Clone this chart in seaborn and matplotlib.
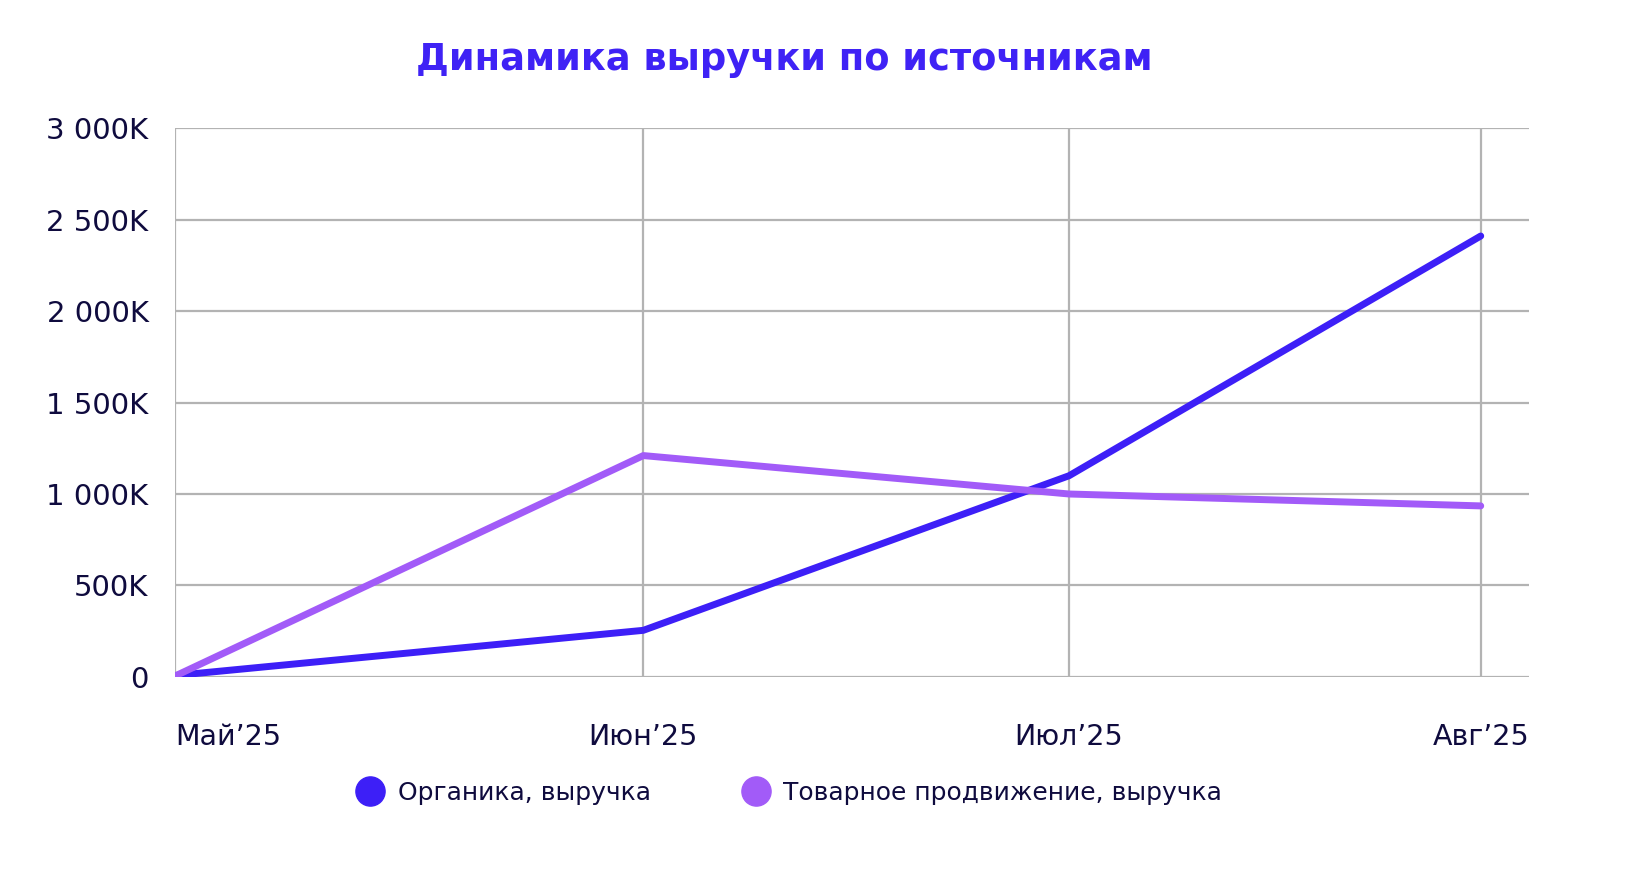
import matplotlib
matplotlib.use("Agg")
import matplotlib.pyplot as plt
import matplotlib.dates as mdates
from matplotlib.lines import Line2D
from matplotlib.ticker import FuncFormatter
import pandas as pd
import seaborn as sns

# data (values in thousands)
dates = ["2025-05-01", "2025-06-03", "2025-07-03", "2025-08-01"]
month_labels = ["Май’25", "Июн’25", "Июл’25", "Авг’25"]
organic = [8, 255, 1100, 2410]
promo = [5, 1210, 1000, 935]
series_names = ["Органика, выручка", "Товарное продвижение, выручка"]
colors = ["#3d1ff7", "#a25bf8"]

TEXT = "#0f0b3e"
GRID = "#b3b3b3"


def build_frame():
    x = pd.to_datetime(dates)
    df = pd.concat([
        pd.DataFrame({"date": x, "value": organic, "series": series_names[0]}),
        pd.DataFrame({"date": x, "value": promo, "series": series_names[1]}),
    ])
    return df


def fmt_k(v, pos):
    if v == 0:
        return "0"
    return f"{int(v):,}".replace(",", " ") + "K"


def plot(df):
    sns.set_style("white")
    plt.rcParams["font.family"] = ["DejaVu Sans"]

    fig = plt.figure(figsize=(16.29, 8.8), dpi=100)
    ax = fig.add_axes([0.1074, 0.2307, 0.8312, 0.6238])

    sns.lineplot(data=df, x="date", y="value", hue="series",
                 palette=colors, linewidth=5, legend=False, ax=ax,
                 zorder=3)

    x = pd.to_datetime(dates)
    ax.set_xlim(x[0], x[-1] + pd.Timedelta(days=3.4))
    ax.set_ylim(0, 3000)
    ax.set_yticks(range(0, 3001, 500))
    ax.yaxis.set_major_formatter(FuncFormatter(fmt_k))
    ax.set_xticks(mdates.date2num(x))
    ax.set_xticklabels(month_labels)
    for i, lbl in enumerate(ax.get_xticklabels()):
        lbl.set_ha("left" if i == 0 else "center")

    ax.grid(True, color=GRID, linewidth=1.6)
    for s in ax.spines.values():
        s.set_visible(False)
    ax.tick_params(axis="both", length=0, colors=TEXT)
    ax.tick_params(axis="y", pad=19, labelsize=21)
    ax.tick_params(axis="x", pad=33, labelsize=20.5)
    ax.set_xlabel("")
    ax.set_ylabel("")

    fig.text(0.4815, 0.932, "Динамика выручки по источникам",
             ha="center", va="center", fontsize=26.5, fontweight="bold",
             color="#3f22f5")

    handles = [Line2D([], [], marker="o", linestyle="none", markersize=21,
                      markerfacecolor=c, markeredgecolor=c) for c in colors]
    fig.legend(handles, series_names, loc="center", ncol=2,
               bbox_to_anchor=(0.481, 0.099), frameon=False,
               fontsize=18, labelcolor=TEXT, handletextpad=0.1,
               columnspacing=3.2)

    fig.savefig("out.png", dpi=100)


if __name__ == "__main__":
    df = build_frame()
    plot(df)
